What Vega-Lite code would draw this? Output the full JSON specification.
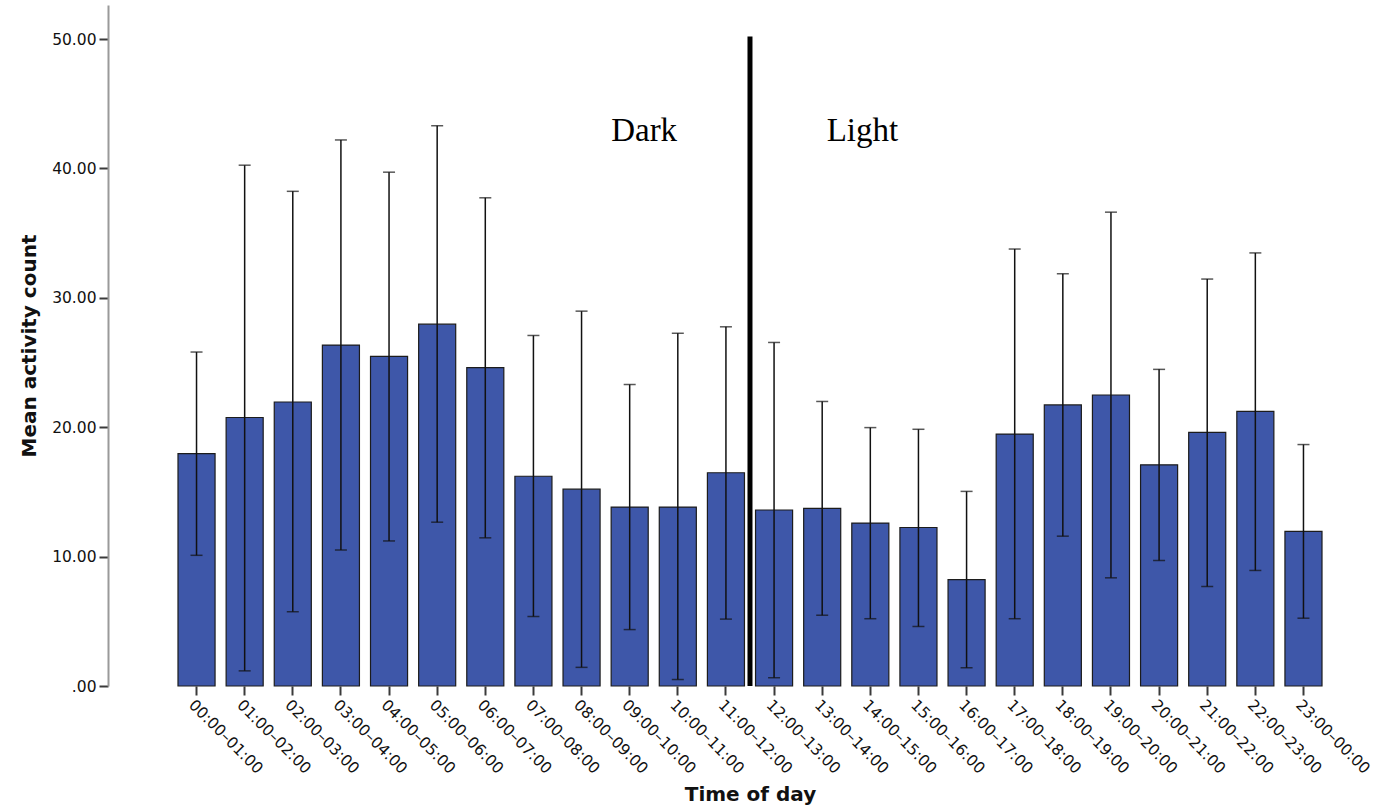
{
  "$schema": "https://vega.github.io/schema/vega-lite/v6.json",
  "autosize": "none",
  "width": 1272,
  "height": 681,
  "padding": {"left": 108, "top": 5, "right": 0, "bottom": 121},
  "background": "white",
  "config": {
    "view": {"stroke": null},
    "axis": {
      "grid": false,
      "domainColor": "#9a9a9a",
      "domainWidth": 2,
      "tickColor": "#3a3a3a",
      "tickWidth": 2,
      "tickSize": 9,
      "labelFont": "DejaVu Sans",
      "labelFontSize": 15.5,
      "labelColor": "#111111",
      "titleFont": "DejaVu Sans",
      "titleFontSize": 20,
      "titleFontWeight": "bold",
      "titleColor": "#111111"
    }
  },
  "data": {
    "values": [
      {"hour": "00:00–01:00", "mean": 17.96, "lo": 10.10, "hi": 25.81},
      {"hour": "01:00–02:00", "mean": 20.75, "lo": 1.17, "hi": 40.25},
      {"hour": "02:00–03:00", "mean": 21.95, "lo": 5.74, "hi": 38.23},
      {"hour": "03:00–04:00", "mean": 26.35, "lo": 10.51, "hi": 42.20},
      {"hour": "04:00–05:00", "mean": 25.48, "lo": 11.21, "hi": 39.71},
      {"hour": "05:00–06:00", "mean": 27.96, "lo": 12.66, "hi": 43.30},
      {"hour": "06:00–07:00", "mean": 24.61, "lo": 11.45, "hi": 37.73},
      {"hour": "07:00–08:00", "mean": 16.21, "lo": 5.37, "hi": 27.09},
      {"hour": "08:00–09:00", "mean": 15.21, "lo": 1.44, "hi": 28.97},
      {"hour": "09:00–10:00", "mean": 13.83, "lo": 4.36, "hi": 23.30},
      {"hour": "10:00–11:00", "mean": 13.83, "lo": 0.50, "hi": 27.26},
      {"hour": "11:00–12:00", "mean": 16.48, "lo": 5.17, "hi": 27.76},
      {"hour": "12:00–13:00", "mean": 13.60, "lo": 0.64, "hi": 26.55},
      {"hour": "13:00–14:00", "mean": 13.73, "lo": 5.47, "hi": 21.99},
      {"hour": "14:00–15:00", "mean": 12.59, "lo": 5.20, "hi": 19.97},
      {"hour": "15:00–16:00", "mean": 12.25, "lo": 4.60, "hi": 19.84},
      {"hour": "16:00–17:00", "mean": 8.22, "lo": 1.41, "hi": 15.04},
      {"hour": "17:00–18:00", "mean": 19.47, "lo": 5.20, "hi": 33.77},
      {"hour": "18:00–19:00", "mean": 21.72, "lo": 11.58, "hi": 31.86},
      {"hour": "19:00–20:00", "mean": 22.49, "lo": 8.36, "hi": 36.62},
      {"hour": "20:00–21:00", "mean": 17.09, "lo": 9.70, "hi": 24.47},
      {"hour": "21:00–22:00", "mean": 19.60, "lo": 7.69, "hi": 31.45},
      {"hour": "22:00–23:00", "mean": 21.22, "lo": 8.93, "hi": 33.47},
      {"hour": "23:00–00:00", "mean": 11.95, "lo": 5.24, "hi": 18.66}
    ]
  },
  "encoding": {
    "x": {
      "field": "hour",
      "type": "nominal",
      "scale": {
        "domain": ["00:00–01:00","01:00–02:00","02:00–03:00","03:00–04:00","04:00–05:00","05:00–06:00","06:00–07:00","07:00–08:00","08:00–09:00","09:00–10:00","10:00–11:00","11:00–12:00","12:00–13:00","13:00–14:00","14:00–15:00","15:00–16:00","16:00–17:00","17:00–18:00","18:00–19:00","19:00–20:00","20:00–21:00","21:00–22:00","22:00–23:00","23:00–00:00"],
        "range": [70, 1214],
        "paddingInner": 0.23,
        "paddingOuter": 0
      },
      "axis": {
        "title": "Time of day",
        "domain": false,
        "labelAngle": 45,
        "labelAlign": "left",
        "labelBaseline": "top",
        "labelPadding": 2,
        "titleX": 642,
        "titleY": 114,
        "titleBaseline": "alphabetic"
      }
    }
  },
  "layer": [
    {
      "mark": {"type": "bar", "fill": "#3e57a9", "stroke": "#1c1c1c", "strokeWidth": 1.2},
      "encoding": {
        "y": {
          "field": "mean",
          "type": "quantitative",
          "scale": {"domain": [0, 52.63], "nice": false, "zero": true},
          "axis": {
            "title": "Mean activity count",
            "values": [0, 10, 20, 30, 40, 50],
            "labelExpr": "datum.value == 0 ? '.00' : format(datum.value, '.2f')",
            "labelPadding": 3,
            "titleX": -73,
            "titleBaseline": "alphabetic"
          }
        }
      }
    },
    {
      "mark": {"type": "rule", "color": "#9a9a9a", "strokeWidth": 2},
      "encoding": {"y": {"datum": 0, "type": "quantitative"}}
    },
    {
      "mark": {"type": "rule", "color": "#111111", "strokeWidth": 1.5},
      "encoding": {
        "y": {"field": "lo", "type": "quantitative"},
        "y2": {"field": "hi"}
      }
    },
    {
      "mark": {"type": "tick", "color": "#111111", "size": 12, "thickness": 1.5},
      "encoding": {"y": {"field": "lo", "type": "quantitative"}}
    },
    {
      "mark": {"type": "tick", "color": "#111111", "size": 12, "thickness": 1.5},
      "encoding": {"y": {"field": "hi", "type": "quantitative"}}
    },
    {
      "data": {"values": [{"hour": "11:00–12:00", "y0": 0, "y1": 50.2}]},
      "mark": {"type": "rule", "color": "#000000", "strokeWidth": 5},
      "encoding": {
        "x": {"field": "hour", "type": "nominal", "bandPosition": 1.149},
        "y": {"field": "y0", "type": "quantitative"},
        "y2": {"field": "y1"}
      }
    },
    {
      "data": {"values": [{"hour": "09:00–10:00", "label": "Dark", "yv": 42.15}]},
      "mark": {"type": "text", "font": "Liberation Serif", "fontSize": 33, "align": "left", "baseline": "alphabetic", "color": "#000000"},
      "encoding": {
        "x": {"field": "hour", "type": "nominal", "bandPosition": 0},
        "y": {"field": "yv", "type": "quantitative"},
        "text": {"field": "label"}
      }
    },
    {
      "data": {"values": [{"hour": "13:00–14:00", "label": "Light", "yv": 42.15}]},
      "mark": {"type": "text", "font": "Liberation Serif", "fontSize": 33, "align": "left", "baseline": "alphabetic", "color": "#000000"},
      "encoding": {
        "x": {"field": "hour", "type": "nominal", "bandPosition": 0.62},
        "y": {"field": "yv", "type": "quantitative"},
        "text": {"field": "label"}
      }
    }
  ]
}
